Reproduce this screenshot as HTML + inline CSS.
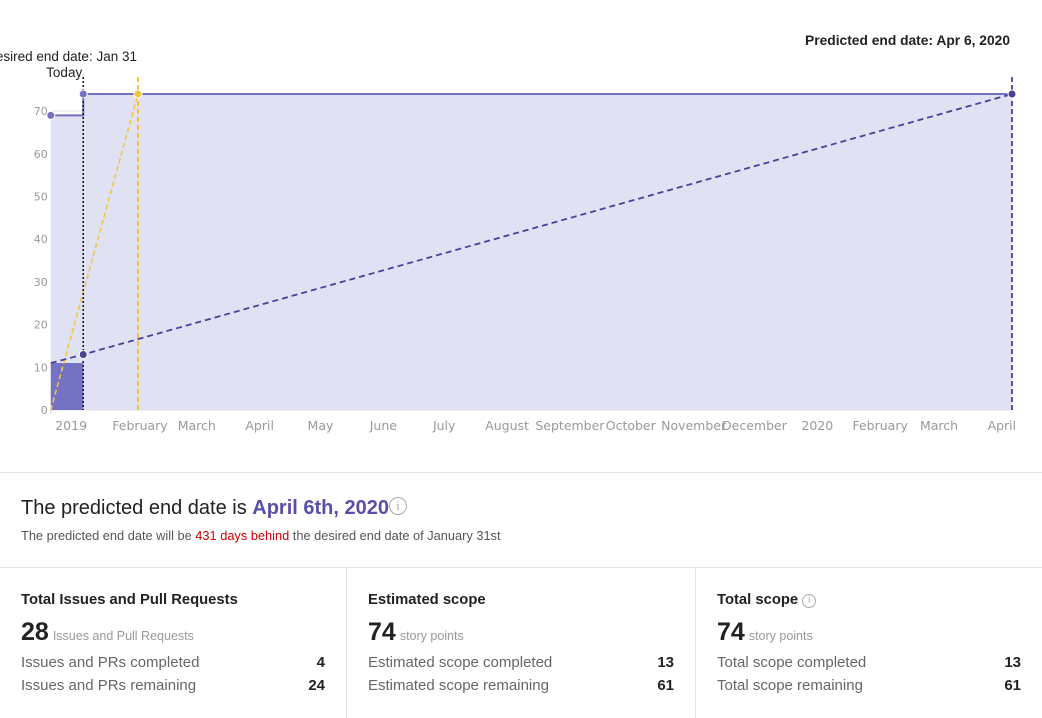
<!DOCTYPE html>
<html><head><meta charset="utf-8">
<style>
body{margin:0;width:1042px;height:718px;background:#fff;font-family:"Liberation Sans",sans-serif;overflow:hidden;position:relative}
.abs{position:absolute}
.col{position:absolute;top:568px;height:150px;width:347px;box-sizing:border-box;padding-left:21px;padding-right:21px}
.col h3{margin:0;position:absolute;top:24px;font-size:14.8px;font-weight:bold;color:#222}
.big{position:absolute;top:50px;font-size:25px;font-weight:bold;color:#222}
.big span{font-size:12.5px;font-weight:normal;color:#999;margin-left:4px}
.row{position:absolute;left:21px;right:21px;font-size:15px;color:#666}
.row b{position:absolute;right:0;color:#222}
</style></head><body>
<svg class="abs" style="left:0;top:0" width="1042" height="450" id="chart"></svg>
<div class="abs" style="left:0;top:472px;width:1042px;height:1px;background:#e4e4e4"></div>
<div class="abs" style="left:21px;top:497px;font-size:20px;color:#222">The predicted end date is <b style="color:#5a4fa8">April 6th, 2020</b><span style="display:inline-block;width:16px;height:16px;border:1.5px solid #aaa;border-radius:50%;color:#aaa;font-size:13px;text-align:center;line-height:16px;vertical-align:4px;font-family:'Liberation Serif',serif">i</span></div>
<div class="abs" style="left:21px;top:528px;font-size:12.8px;color:#555">The predicted end date will be <span style="color:#c00">431 days behind</span> the desired end date of January 31st</div>
<div class="abs" style="left:0;top:567px;width:1042px;height:1px;background:#e4e4e4"></div>
<div class="col" style="left:0;border-right:1px solid #e4e4e4">
<h3>Total Issues and Pull Requests</h3>
<div class="big">28<span>Issues and Pull Requests</span></div>
<div class="row" style="top:86px">Issues and PRs completed<b>4</b></div>
<div class="row" style="top:109px">Issues and PRs remaining<b>24</b></div>
</div>
<div class="col" style="left:347px;width:349px;border-right:1px solid #e4e4e4">
<h3>Estimated scope</h3>
<div class="big">74<span>story points</span></div>
<div class="row" style="top:86px">Estimated scope completed<b>13</b></div>
<div class="row" style="top:109px">Estimated scope remaining<b>61</b></div>
</div>
<div class="col" style="left:696px;width:346px">
<h3>Total scope <span style="display:inline-block;width:12px;height:12px;border:1px solid #aaa;border-radius:50%;color:#aaa;font-size:10px;text-align:center;line-height:12px;font-weight:normal;vertical-align:1px">i</span></h3>
<div class="big">74<span>story points</span></div>
<div class="row" style="top:86px">Total scope completed<b>13</b></div>
<div class="row" style="top:109px">Total scope remaining<b>61</b></div>
</div>
<script>
const scopeDates=["2018-12-19","2019-01-04","2019-01-04","2020-04-06"];
const scopeValues=[69,69,74,74];
const completedDates=["2018-12-19","2019-01-04"];
const completedValues=[11,11];
const projDates=["2018-12-19","2019-01-04","2020-04-06"];
const projValues=[11,13,74];
const idealDates=["2018-12-19","2019-01-31"];
const idealValues=[0,74];
const yTicks=[0,10,20,30,40,50,60,70];
const xTickDates=["2019-01-01","2019-02-01","2019-03-01","2019-04-01","2019-05-01","2019-06-01","2019-07-01","2019-08-01","2019-09-01","2019-10-01","2019-11-01","2019-12-01","2020-01-01","2020-02-01","2020-03-01","2020-04-01"];
const xTickLabels=["2019","February","March","April","May","June","July","August","September","October","November","December","2020","February","March","April"];
const todayDate="2019-01-04",desiredDate="2019-01-31",endDate="2020-04-06";
const NS="http://www.w3.org/2000/svg",svg=document.getElementById('chart');
const t0=Date.parse("2019-02-01"),t1=Date.parse("2020-04-06");
const x=d=>140+(Date.parse(d)-t0)/(t1-t0)*872;
const y=v=>410-v*(316/74);
function el(tag,attrs,parent){const e=document.createElementNS(NS,tag);for(const k in attrs)e.setAttribute(k,attrs[k]);(parent||svg).appendChild(e);return e;}
function txt(s,attrs){const e=el('text',attrs);e.textContent=s;return e;}
const x0=x(scopeDates[0]),xe=x(endDate);
const TF='"DejaVu Sans",sans-serif';
yTicks.forEach(v=>{
 const g=el('line',{x1:x0,x2:xe,y1:y(v),y2:y(v),stroke:'#e2e2ee'});
 
 
 const t=txt(v,{x:x0-3,y:y(v)+4,'text-anchor':'end','font-size':11,fill:'#999','font-family':TF});
 
 
});
let d="M"+x(scopeDates[0])+","+y(0);
scopeDates.forEach((s,i)=>d+=" L"+x(s)+","+y(scopeValues[i]));
d+=" L"+x(scopeDates[scopeDates.length-1])+","+y(0)+"Z";
const area=el('path',{d:d,fill:'#e1e1f4'});


let cd="M"+x(completedDates[0])+","+y(0);
completedDates.forEach((s,i)=>cd+=" L"+x(s)+","+y(completedValues[i]));
cd+=" L"+x(completedDates[completedDates.length-1])+","+y(0)+"Z";
const comp=el('path',{d:cd,fill:'#7472c2'});


const sl=el('polyline',{points:scopeDates.map((s,i)=>x(s)+","+y(scopeValues[i])).join(" "),fill:'none',stroke:'#7472c2','stroke-width':2});


xTickDates.forEach((s,i)=>{
 const t=txt(xTickLabels[i],{x:x(s)-(i==0?6:0),y:430,'text-anchor':'middle','font-size':12.5,fill:'#999','font-family':TF});
 
 
});
el('line',{x1:x0,x2:x0,y1:y(0),y2:y(0)+4,stroke:'#ccc'});
const il=el('polyline',{points:idealDates.map((s,i)=>x(s)+","+y(idealValues[i])).join(" "),fill:'none',stroke:'#f0c640','stroke-width':1.6,'stroke-dasharray':'5,3'});


const dv=el('line',{x1:x(desiredDate),x2:x(desiredDate),y1:77,y2:410,stroke:'#f0c640','stroke-width':2,'stroke-dasharray':'5,3'});


const pl=el('polyline',{points:projDates.map((s,i)=>x(s)+","+y(projValues[i])).join(" "),fill:'none',stroke:'#4b3f98','stroke-width':1.8,'stroke-dasharray':'6,4'});


const ev=el('line',{x1:xe,x2:xe,y1:77,y2:410,stroke:'#4b3f98','stroke-width':1.8,'stroke-dasharray':'5,3'});


const tv=el('line',{x1:x(todayDate),x2:x(todayDate),y1:77,y2:410,stroke:'#111','stroke-width':1.5,'stroke-dasharray':'2,2'});


[[scopeDates[0],scopeValues[0],'#7472c2'],[scopeDates[2],scopeValues[2],'#7472c2'],[desiredDate,idealValues[1],'#f0c640'],[projDates[1],projValues[1],'#4b3f98'],[endDate,projValues[2],'#4b3f98']].forEach(p=>{
 const c=el('circle',{cx:x(p[0]),cy:y(p[1]),r:4,fill:p[2],stroke:'#fff','stroke-width':1});
 
 
});
const a=txt('Predicted end date: Apr 6, 2020',{x:1010,y:45,'text-anchor':'end','font-size':13.8,'font-weight':'bold',fill:'#222'});


const b=txt('Desired end date: Jan 31',{x:x(desiredDate)-1,y:61,'text-anchor':'end','font-size':13.5,fill:'#222'});


const c=txt('Today',{x:x(todayDate)-1,y:77,'text-anchor':'end','font-size':13.5,fill:'#222'});


</script>
</body></html>
